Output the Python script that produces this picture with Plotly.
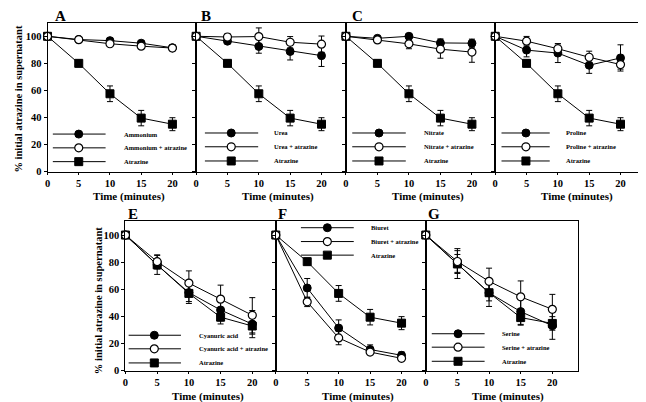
import plotly.graph_objects as go

# time points (minutes)
time = [0, 5, 10, 15, 20]

# atrazine alone (shared by A-D)
atrazine = [100, 80, 57.5, 39.5, 35]
atrazine_err = [0, 2.5, 5.8, 5.7, 4.8]

ammonium = [100, 97.6, 96.8, 94.9, 91.5]
ammonium_err = [0, 1, 1.5, 1.5, 2]
ammonium_atz = [100, 97.5, 94.5, 92.7, 91.3]
ammonium_atz_err = [0, 1, 1.5, 1.5, 2]

urea = [100, 96.4, 92.5, 88.8, 85.7]
urea_err = [0, 1.5, 5, 6.3, 8]
urea_atz = [100, 99.5, 99.8, 95.6, 94.2]
urea_atz_err = [0, 2.4, 6.4, 4.2, 6]

nitrate = [100, 98.5, 100, 95.1, 94.9]
nitrate_err = [0, 1, 1, 3, 3]
nitrate_atz = [100, 97.3, 94.4, 90.5, 88.3]
nitrate_atz_err = [0, 2, 3.6, 6.7, 7.5]

proline = [100, 89.8, 87.6, 78.6, 84]
proline_err = [0, 5, 7, 6, 9.7]
proline_atz = [100, 96.4, 90.8, 84.5, 79.1]
proline_atz_err = [0, 3.5, 3.6, 4.5, 3.4]

cyanuric = [100, 78, 57.6, 44.8, 34.4]
cyanuric_err = [0, 7, 8, 8, 10]
cyanuric_atz = [100, 80.4, 64.6, 52.8, 40.9]
cyanuric_atz_err = [0, 5, 9, 10.3, 13]
atrazine_e = [100, 78, 57, 39.5, 33]
atrazine_e_err = [0, 3, 6, 5, 6]

biuret = [100, 61, 31.5, 15.7, 11.4]
biuret_err = [0, 7, 6, 3.4, 2.5]
biuret_atz = [100, 50.8, 24.2, 13.8, 9.2]
biuret_atz_err = [0, 3.5, 5, 2, 1.5]
atrazine_f = [100, 80.4, 57, 39.5, 35.1]
atrazine_f_err = [0, 2.5, 5.8, 5.7, 4.8]

serine = [100, 79, 57.4, 43.6, 33.2]
serine_err = [0, 11, 10, 10, 10]
serine_atz = [100, 80.5, 65.9, 54.5, 45.3]
serine_atz_err = [0, 8, 9.7, 11.7, 11]
atrazine_g = [100, 78.7, 57.5, 39.2, 34.9]
atrazine_g_err = [0, 7, 6, 5, 5]

x_ticks = [0, 5, 10, 15, 20]
y_ticks = [0, 20, 40, 60, 80, 100]

W, H = 646, 402
FONT = "Liberation Serif"

# panel layout: pixel box, x range end, legend (x0, x1, xmarker, xtext, rows), letter x
panels = [
    dict(letter="A", name="Ammonium", f=(ammonium, ammonium_err), o=(ammonium_atz, ammonium_atz_err),
         s=(atrazine, atrazine_err), box=(36.7, 186, 15, 166), xmax=23.8,
         leg=(0.85, 9.3, 5.0, 11.9, [27.7, 17.5, 7.3]), lx=0.85),
    dict(letter="B", name="Urea", f=(urea, urea_err), o=(urea_atz, urea_atz_err),
         s=(atrazine, atrazine_err), box=(186, 336.5, 15, 166), xmax=23.9,
         leg=(1.4, 9.9, 5.6, 12.1, [28.5, 18.3, 7.8]), lx=0.5),
    dict(letter="C", name="Nitrate", f=(nitrate, nitrate_err), o=(nitrate_atz, nitrate_atz_err),
         s=(atrazine, atrazine_err), box=(336.5, 486.5, 15, 166), xmax=23.7,
         leg=(1.0, 9.5, 5.25, 12.1, [28.5, 18.3, 7.8]), lx=0.6),
    dict(letter="D", name="Proline", f=(proline, proline_err), o=(proline_atz, proline_atz_err),
         s=(atrazine, atrazine_err), box=(486.5, 635, 15, 166), xmax=23.6,
         leg=(1.0, 8.7, 4.9, 11.0, [28.5, 18.3, 7.8]), lx=-0.3),
    dict(letter="E", name="Cyanuric acid", f=(cyanuric, cyanuric_err), o=(cyanuric_atz, cyanuric_atz_err),
         s=(atrazine_e, atrazine_e_err), box=(115, 266, 216.7, 368.3), xmax=23.7,
         leg=(0.5, 8.75, 4.55, 11.3, [26.2, 16.2, 5.8]), lx=0.16),
    dict(letter="F", name="Biuret", f=(biuret, biuret_err), o=(biuret_atz, biuret_atz_err),
         s=(atrazine_f, atrazine_f_err), box=(266, 416.7, 216.7, 368.3), xmax=23.85,
         leg=(4.0, 12.4, 8.2, 14.9, [105.4, 95.2, 85.2]), lx=0.0),
    dict(letter="G", name="Serine", f=(serine, serine_err), o=(serine_atz, serine_atz_err),
         s=(atrazine_g, atrazine_g_err), box=(416.7, 569.3, 216.7, 368.3), xmax=24.0,
         leg=(0.95, 9.3, 5.1, 11.8, [27.3, 17.4, 7.0]), lx=0.0),
]

styles = {
    "f": dict(symbol="circle", size=8, color="black", line=dict(color="black", width=1)),
    "o": dict(symbol="circle", size=8, color="white", line=dict(color="black", width=1.2)),
    "s": dict(symbol="square", size=8, color="black", line=dict(color="black", width=1)),
}

fig = go.Figure()
annotations = []
layout = {}

for i, p in enumerate(panels, start=1):
    suf = "" if i == 1 else str(i)
    xa, ya = "x" + suf, "y" + suf
    x0, x1, y0, y1 = p["box"]
    dom_x = [x0 / W, x1 / W]
    dom_y = [1 - y1 / H, 1 - y0 / H]
    show_y = p["letter"] in ("A", "E")

    layout["xaxis" + suf] = dict(
        domain=dom_x, range=[0, p["xmax"]], anchor=ya, tickvals=x_ticks,
        showline=True, linecolor="black", linewidth=1, mirror=True,
        ticks="outside", ticklen=2, tickcolor="black", showgrid=False, zeroline=False,
        tickfont=dict(family=FONT, size=10.5, color="black", weight="bold"),
    )
    layout["yaxis" + suf] = dict(
        domain=dom_y, range=[0, 110], anchor=xa, tickvals=y_ticks,
        showline=True, linecolor="black", linewidth=1, mirror=True,
        ticks="outside", ticklen=3, tickcolor="black", showgrid=False, zeroline=False,
        showticklabels=show_y,
        tickfont=dict(family=FONT, size=10.5, color="black", weight="bold"),
    )

    # data series: squares first, then filled, then open circles
    for key in ("s", "f", "o"):
        vals, err = p[key]
        fig.add_trace(go.Scatter(
            x=time, y=vals, mode="lines+markers", xaxis=xa, yaxis=ya,
            line=dict(color="black", width=1), marker=styles[key],
            error_y=dict(type="data", array=err, color="black", thickness=1, width=3),
            showlegend=False, cliponaxis=False, hoverinfo="skip",
        ))

    # in-plot legend
    lx0, lx1, lxm, lxt, rows = p["leg"]
    labels = [p["name"], p["name"] + " + atrazine", "Atrazine"]
    for key, yr, lab in zip(("f", "o", "s"), rows, labels):
        fig.add_trace(go.Scatter(
            x=[lx0, lx1], y=[yr, yr], mode="lines", xaxis=xa, yaxis=ya,
            line=dict(color="black", width=1), showlegend=False, hoverinfo="skip",
        ))
        fig.add_trace(go.Scatter(
            x=[lxm], y=[yr], mode="markers", xaxis=xa, yaxis=ya,
            marker=styles[key], showlegend=False, hoverinfo="skip",
        ))
        annotations.append(dict(
            x=lxt, y=yr, xref=xa, yref=ya, text=lab, showarrow=False,
            xanchor="left", yanchor="middle",
            font=dict(family=FONT, size=6.5, color="black", weight="bold"),
        ))

    # panel letter
    annotations.append(dict(
        x=p["lx"], y=dom_y[1], xref=xa, yref="paper", text=p["letter"], showarrow=False,
        xanchor="left", yanchor="bottom", yshift=-3,
        font=dict(family=FONT, size=15, color="black", weight="bold"),
    ))

    # x title
    ty = 191 if y0 < 100 else 394
    annotations.append(dict(
        x=13, y=1 - ty / H, xref=xa, yref="paper", text="Time (minutes)", showarrow=False,
        xanchor="center", yanchor="middle",
        font=dict(family=FONT, size=11, color="black", weight="bold"),
    ))

# y titles
for cx, cy in [(8, 92), (88, 297)]:
    annotations.append(dict(
        x=cx / W, y=1 - cy / H, xref="paper", yref="paper",
        text="% initial atrazine in supernatant", textangle=-90, showarrow=False,
        xanchor="center", yanchor="middle",
        font=dict(family=FONT, size=10.5, color="black", weight="bold"),
    ))

fig.update_layout(
    width=W, height=H,
    margin=dict(l=0, r=0, t=0, b=0),
    plot_bgcolor="white", paper_bgcolor="white",
    annotations=annotations,
    **layout,
)

fig.write_html("out.html")
